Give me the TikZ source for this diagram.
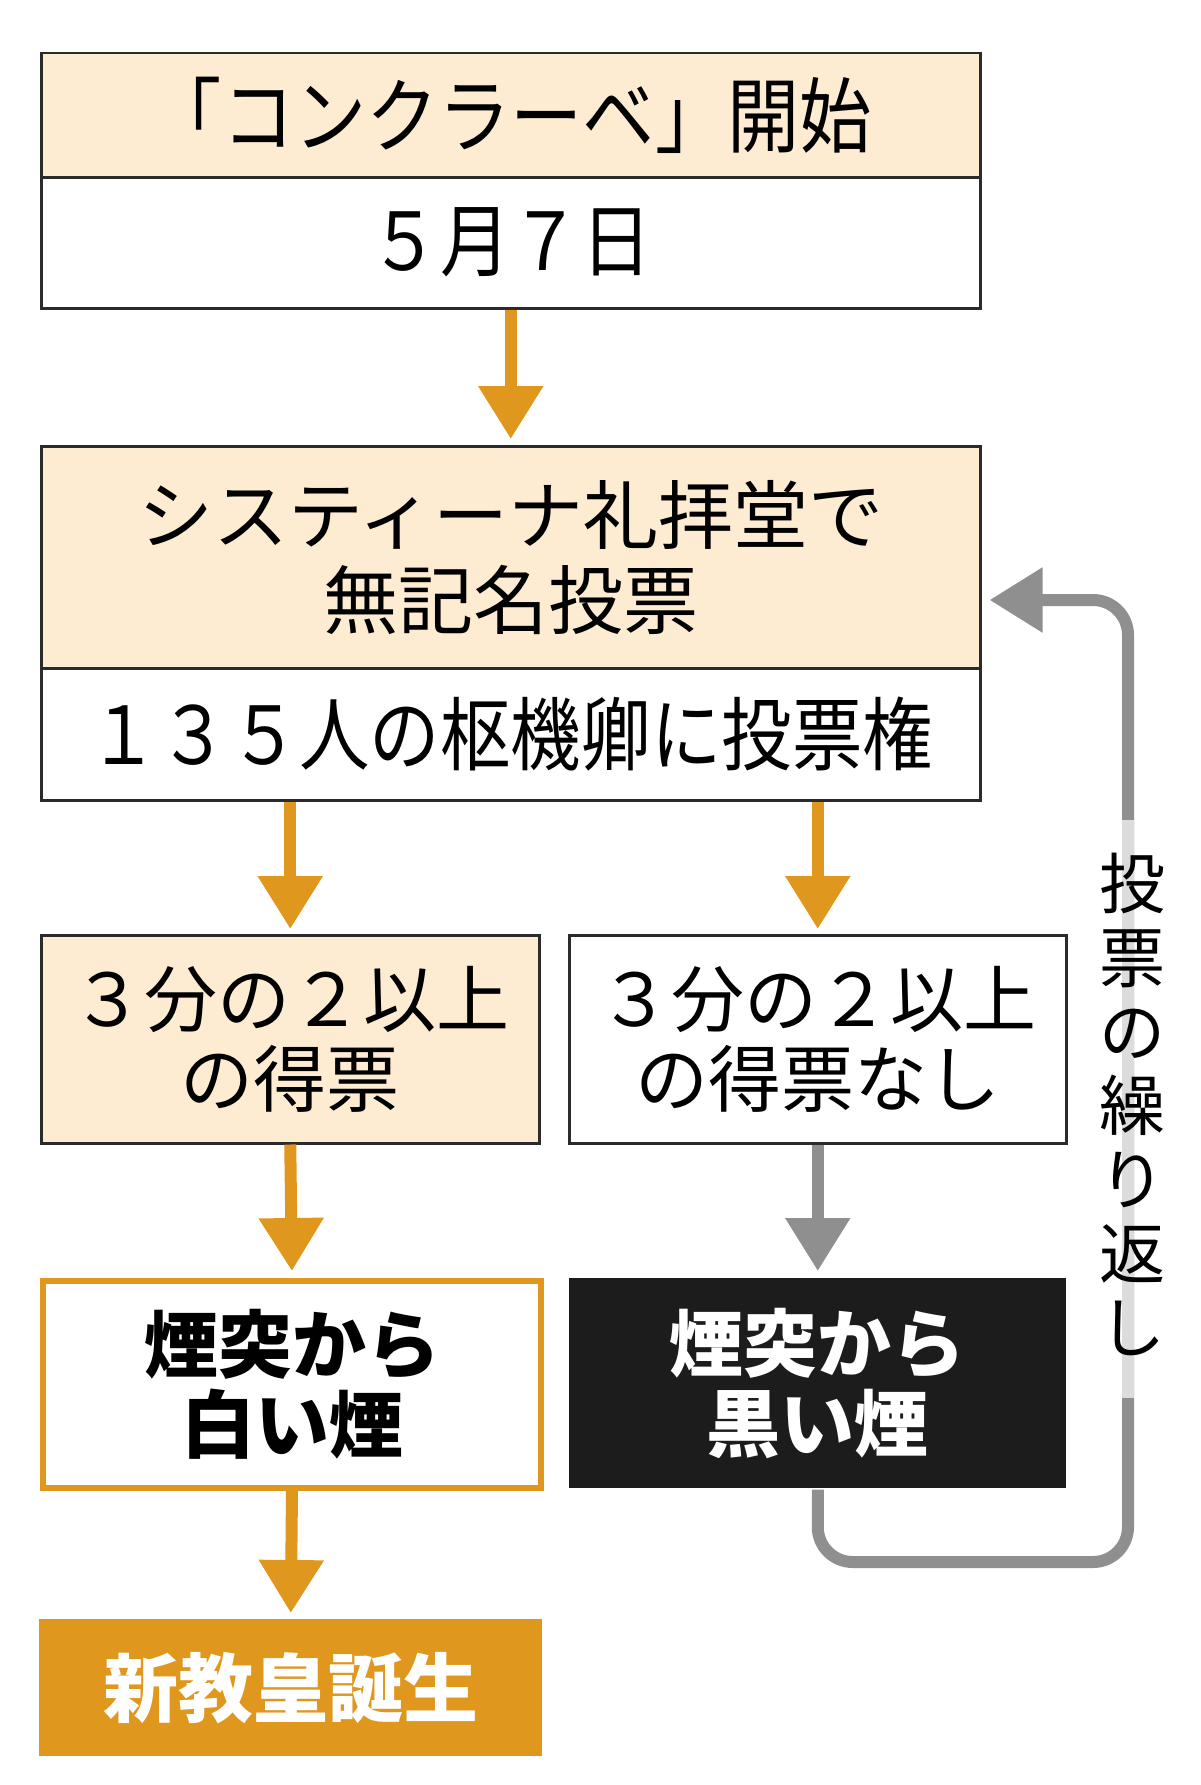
\documentclass[tikz,border=0pt]{standalone}
\usepackage{fontspec}
\newfontfamily\jp{Noto Sans CJK JP}
\newfontfamily\jpc[FakeStretch=0.88]{Noto Sans CJK JP}
\usetikzlibrary{arrows.meta}
\definecolor{peach}{HTML}{FDEBD2}
\definecolor{ora}{HTML}{E0971E}
\definecolor{gry}{HTML}{8F8F90}
\definecolor{lgry}{HTML}{DCDCDC}
\definecolor{blk}{HTML}{1C1C1C}
\definecolor{bord}{HTML}{2B2B2B}
\tikzset{
  box/.style={draw=bord, line width=2.5pt, inner sep=0pt, anchor=north west, align=center, text=black},
  peachbox/.style={box, fill=peach},
  whitebox/.style={box, fill=white},
  oarrow/.style={draw=ora, line width=12pt, -{Triangle[width=62pt,length=53pt]}},
  garrow/.style={draw=gry, line width=12pt, -{Triangle[width=62pt,length=53pt]}},
}
\begin{document}
\begin{tikzpicture}[x=1pt,y=-1pt]
\useasboundingbox[fill=white] (0,0) rectangle (1200,1785);
% top block
\node[peachbox, minimum width=939pt, minimum height=124pt, font=\jpc\fontsize{82}{90}\selectfont] (t1) at (40,52) {「コンクラーベ」開始};
\node[whitebox, minimum width=939pt, minimum height=131pt, font=\jpc\fontsize{80}{90}\selectfont] (t1b) at (40,176) {５月７日};
% second block
\node[peachbox, minimum width=939pt, minimum height=222pt, font=\jp\fontsize{75}{85}\selectfont] (t2) at (40,445) {システィーナ礼拝堂で\\無記名投票};
\node[whitebox, minimum width=939pt, minimum height=132pt, font=\jpc\fontsize{80}{90}\selectfont] (t2b) at (40,667) {１３５人の枢機卿に投票権};
% third row
\node[peachbox, minimum width=498pt, minimum height=208pt, font=\jp\fontsize{73}{80}\selectfont] (l3) at (40,934) {３分の２以上\\の得票};
\node[whitebox, minimum width=497pt, minimum height=208pt, font=\jp\fontsize{73}{80}\selectfont] (r3) at (568,934) {３分の２以上\\の得票なし};
% fourth row
\node[box, draw=ora, line width=6pt, fill=white, minimum width=498pt, minimum height=207pt, font=\jp\bfseries\fontsize{74}{80}\selectfont] (l4) at (40,1278) {煙突から\\白い煙};
\node[box, draw=none, fill=blk, text=white, minimum width=497pt, minimum height=210pt, font=\jp\bfseries\fontsize{74}{80}\selectfont] (r4) at (568,1277) {煙突から\\黒い煙};
% result
\node[box, draw=none, fill=ora, text=white, minimum width=503pt, minimum height=137pt, font=\jp\bfseries\fontsize{75}{80}\selectfont] (l5) at (38,1618) {新教皇誕生};
% arrows
\draw[oarrow, shorten >=6pt] (t1b.south) -- (t2.north);
\draw[oarrow, shorten >=5pt] (t2b.south -| l3.north) -- (l3.north);
\draw[oarrow, shorten >=5pt] (t2b.south -| r3.north) -- (r3.north);
\draw[oarrow, shorten >=7pt] (l3.south) -- (l4.north);
\draw[garrow, shorten >=6pt] (r3.south) -- (r4.north);
\draw[oarrow, shorten >=5pt] (l4.south) -- (l5.north);
% loop back
\coordinate (lc) at (1128,1562);
\coordinate (tc) at (1128,600);
\draw[garrow, rounded corners=35pt, shorten >=8pt] (r4.south) |- (lc) -- (tc) -- (t2.east |- tc);
\draw[lgry, line width=12pt] (1128,820) -- (1128,1398);
\node[inner sep=0pt, align=center, font=\jp\fontsize{66}{74}\selectfont] (lbl) at (1132,1104) {投\\票\\の\\繰\\り\\返\\し};
\end{tikzpicture}
\end{document}
